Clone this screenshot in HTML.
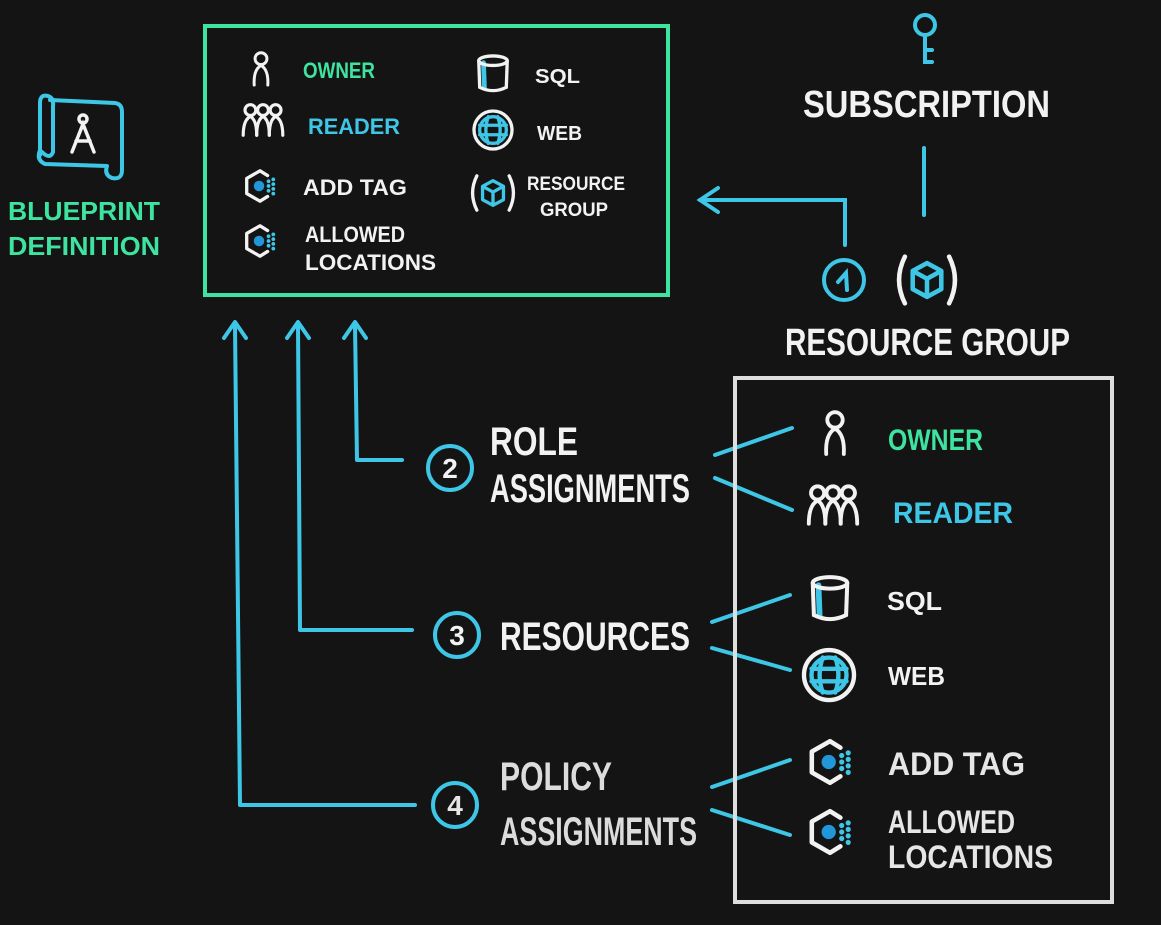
<!DOCTYPE html>
<html><head><meta charset="utf-8"><style>
html,body{margin:0;padding:0;background:#141414;}
svg{display:block}
text{font-family:"Liberation Sans",sans-serif;font-weight:bold;}
</style></head><body>
<svg width="1161" height="925" viewBox="0 0 1161 925" xmlns="http://www.w3.org/2000/svg">
<defs>
<g id="person" fill="none" stroke="#f2f2f2" stroke-width="3.5" stroke-linecap="round">
  <circle cx="0" cy="-11" r="7"/>
  <path d="M-8,20 Q-9,2 0,-3 Q9,2 8,20"/>
</g>
<g id="group" fill="none" stroke="#f2f2f2" stroke-width="3.5" stroke-linecap="round">
  <circle cx="-14" cy="-11" r="6"/><circle cx="0" cy="-11" r="6"/><circle cx="14" cy="-11" r="6"/>
  <path d="M-22,17 Q-22,0 -14,-4 Q-7,0 -7,17"/>
  <path d="M-7,17 Q-7,0 0,-4 Q7,0 7,17"/>
  <path d="M7,17 Q7,0 14,-4 Q22,0 22,17"/>
</g>
<g id="cyl" fill="none" stroke-linecap="round">
  <path d="M-10,-12 L-9,15" stroke="#3ec6e6" stroke-width="5"/>
  <ellipse cx="0" cy="-14" rx="15" ry="5" stroke="#f2f2f2" stroke-width="3.5"/>
  <path d="M-15,-14 L-14,14 Q0,21 14,14 L15,-14" stroke="#f2f2f2" stroke-width="3.5"/>
</g>
<g id="globe" fill="none" stroke-linecap="round">
  <circle cx="0" cy="0" r="20" stroke="#f2f2f2" stroke-width="3.5"/>
  <g stroke="#3ec6e6" stroke-width="3.5">
    <circle cx="0" cy="0" r="14"/>
    <path d="M-5,-14 Q-10,0 -5,14 M5,-14 Q10,0 5,14 M-14,-5 L14,-5 M-14,5 L14,5"/>
  </g>
</g>
<g id="hex" fill="none" stroke-linecap="round" stroke-linejoin="round">
  <path d="M8,-11 L0,-16 L-14,-8 L-14,8 L0,16 L8,11" stroke="#f2f2f2" stroke-width="3.5"/>
  <circle cx="-1" cy="0" r="5.5" fill="#2196d8" stroke="none"/>
  <g fill="#3ec6e6" stroke="none">
    <circle cx="9" cy="-5" r="2"/><circle cx="9" cy="0" r="2"/><circle cx="9" cy="5" r="2"/>
    <circle cx="14" cy="-7" r="2"/><circle cx="14" cy="-2" r="2"/><circle cx="14" cy="3" r="2"/><circle cx="14" cy="8" r="2"/>
  </g>
</g>
<g id="rg" fill="none" stroke-linecap="round" stroke-linejoin="round">
  <path d="M-17,-18 Q-26,0 -17,18 M17,-18 Q26,0 17,18" stroke="#f2f2f2" stroke-width="3.5"/>
  <path d="M0,-13 L11,-7 L11,7 L0,13 L-11,7 L-11,-7 Z M-11,-7 L0,-1 L11,-7 M0,-1 L0,13" stroke="#3ec6e6" stroke-width="3.5"/>
</g>
</defs>

<!-- Blueprint icon -->
<g fill="none" stroke="#3ec6e6" stroke-width="4" stroke-linecap="round" stroke-linejoin="round">
  <path d="M50,100 L115,103 Q122,104 122,112 L122,170 Q122,180 112,178 Q104,175 107,166 L45,164 Q36,160 40,150"/>
  <path d="M40,155 L40,103 Q40,94 48,96 Q54,98 53,106 L53,152 Q50,160 42,152"/>
</g>
<g fill="none" stroke="#f2f2f2" stroke-width="3.5" stroke-linecap="round">
  <circle cx="83" cy="119" r="4"/>
  <path d="M72,152 L83,124 L94,152 M76,141 L90,141"/>
</g>
<text x="8" y="220" font-size="26" fill="#3fe3a0" textLength="152" lengthAdjust="spacingAndGlyphs">BLUEPRINT</text>
<text x="8" y="255" font-size="26" fill="#3fe3a0" textLength="152" lengthAdjust="spacingAndGlyphs">DEFINITION</text>

<!-- Green box -->
<rect x="205" y="26" width="463" height="269" fill="none" stroke="#3fe3a0" stroke-width="4"/>
<use href="#person" transform="translate(261,68) scale(0.85)"/>
<text x="303" y="78" font-size="22" fill="#3fe3a0" textLength="72" lengthAdjust="spacingAndGlyphs">OWNER</text>
<use href="#group" transform="translate(263,120) scale(0.9)"/>
<text x="308" y="134" font-size="22" fill="#3ec6e6" textLength="92" lengthAdjust="spacingAndGlyphs">READER</text>
<use href="#hex" transform="translate(260,186) scale(0.95)"/>
<text x="303" y="195" font-size="22" fill="#f2f2f2" textLength="104" lengthAdjust="spacingAndGlyphs">ADD TAG</text>
<use href="#hex" transform="translate(260,241) scale(0.95)"/>
<text x="305" y="242" font-size="22" fill="#f2f2f2" textLength="100" lengthAdjust="spacingAndGlyphs">ALLOWED</text>
<text x="305" y="270" font-size="22" fill="#f2f2f2" textLength="131" lengthAdjust="spacingAndGlyphs">LOCATIONS</text>
<use href="#cyl" transform="translate(493,74) scale(0.95)"/>
<text x="535" y="83" font-size="20" fill="#f2f2f2" textLength="45" lengthAdjust="spacingAndGlyphs">SQL</text>
<use href="#globe" transform="translate(493,130) scale(0.95)"/>
<text x="537" y="140" font-size="20" fill="#f2f2f2" textLength="45" lengthAdjust="spacingAndGlyphs">WEB</text>
<use href="#rg" transform="translate(493,193) scale(0.95)"/>
<text x="527" y="190" font-size="19" fill="#f2f2f2" textLength="98" lengthAdjust="spacingAndGlyphs">RESOURCE</text>
<text x="540" y="216" font-size="19" fill="#f2f2f2" textLength="68" lengthAdjust="spacingAndGlyphs">GROUP</text>

<!-- Subscription -->
<g fill="none" stroke="#3ec6e6" stroke-width="4" stroke-linecap="round">
  <circle cx="925" cy="25" r="10"/>
  <path d="M925,35 L925,62 L932,62 M925,50 L932,50"/>
  <path d="M924,148 L924,215"/>
  <circle cx="844" cy="280" r="20"/>
  <path d="M838,282 L846,273 L847,290"/>
  <path d="M845,245 L845,200 L700,200"/>
  <path d="M718,188 L700,200 L718,212"/>
</g>
<text x="803" y="117" font-size="38" fill="#f2f2f2" textLength="247" lengthAdjust="spacingAndGlyphs">SUBSCRIPTION</text>
<use href="#rg" transform="translate(927,280) scale(1.3)"/>
<text x="785" y="355" font-size="38" fill="#f2f2f2" textLength="285" lengthAdjust="spacingAndGlyphs">RESOURCE GROUP</text>

<!-- Left arrows -->
<g fill="none" stroke="#3ec6e6" stroke-width="4" stroke-linecap="round" stroke-linejoin="round">
  <path d="M415,805 L240,805 L235,325"/>
  <path d="M224,338 L235,322 L246,338"/>
  <path d="M412,630 L300,630 L298,325"/>
  <path d="M287,338 L298,322 L309,338"/>
  <path d="M402,460 L357,460 L355,325"/>
  <path d="M344,338 L355,322 L366,338"/>
  <circle cx="450" cy="468" r="22"/>
  <circle cx="457" cy="635" r="22"/>
  <circle cx="455" cy="805" r="22"/>
  <path d="M715,455 L792,428 M715,478 L792,510 M712,622 L790,595 M712,648 L790,670 M712,787 L790,760 M712,810 L790,835"/>
</g>
<text x="450" y="478" font-size="28" fill="#f2f2f2" text-anchor="middle">2</text>
<text x="457" y="645" font-size="28" fill="#f2f2f2" text-anchor="middle">3</text>
<text x="455" y="815" font-size="28" fill="#e6e6e6" text-anchor="middle">4</text>
<text x="490" y="455" font-size="40" fill="#f2f2f2" textLength="88" lengthAdjust="spacingAndGlyphs">ROLE</text>
<text x="490" y="502" font-size="40" fill="#f2f2f2" textLength="200" lengthAdjust="spacingAndGlyphs">ASSIGNMENTS</text>
<text x="500" y="650" font-size="40" fill="#f2f2f2" textLength="190" lengthAdjust="spacingAndGlyphs">RESOURCES</text>
<text x="500" y="790" font-size="40" fill="#dcdcdc" textLength="112" lengthAdjust="spacingAndGlyphs">POLICY</text>
<text x="500" y="845" font-size="40" fill="#dcdcdc" textLength="197" lengthAdjust="spacingAndGlyphs">ASSIGNMENTS</text>

<!-- White box -->
<rect x="735" y="378" width="377" height="524" fill="none" stroke="#dedede" stroke-width="4"/>
<use href="#person" transform="translate(835,432) scale(1.1)"/>
<text x="888" y="450" font-size="30" fill="#3fe3a0" textLength="95" lengthAdjust="spacingAndGlyphs">OWNER</text>
<use href="#group" transform="translate(833,505) scale(1.1)"/>
<text x="893" y="523" font-size="30" fill="#3ec6e6" textLength="120" lengthAdjust="spacingAndGlyphs">READER</text>
<use href="#cyl" transform="translate(830,599) scale(1.15)"/>
<text x="887" y="610" font-size="26" fill="#f2f2f2" textLength="55" lengthAdjust="spacingAndGlyphs">SQL</text>
<use href="#globe" transform="translate(829,675) scale(1.25)"/>
<text x="888" y="685" font-size="26" fill="#f2f2f2" textLength="57" lengthAdjust="spacingAndGlyphs">WEB</text>
<use href="#hex" transform="translate(830,762) scale(1.3)"/>
<text x="888" y="775" font-size="32" fill="#e6e6e6" textLength="137" lengthAdjust="spacingAndGlyphs">ADD TAG</text>
<use href="#hex" transform="translate(830,832) scale(1.3)"/>
<text x="888" y="833" font-size="32" fill="#e6e6e6" textLength="127" lengthAdjust="spacingAndGlyphs">ALLOWED</text>
<text x="888" y="868" font-size="32" fill="#e6e6e6" textLength="165" lengthAdjust="spacingAndGlyphs">LOCATIONS</text>
</svg>
</body></html>
